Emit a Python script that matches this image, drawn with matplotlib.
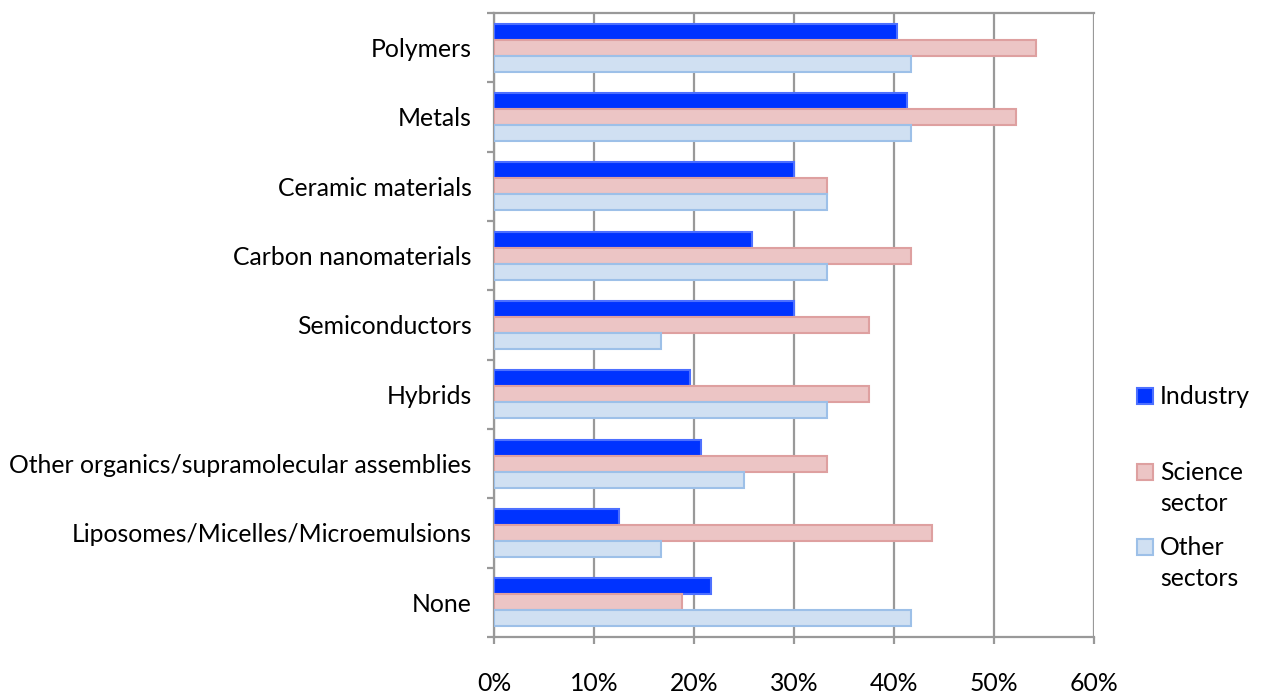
import matplotlib.pyplot as plt
import numpy as np
from matplotlib.patches import Rectangle
from matplotlib.ticker import PercentFormatter

plt.rcParams['font.family'] = ['Lato', 'DejaVu Sans']

categories = ["Polymers", "Metals", "Ceramic materials", "Carbon nanomaterials",
              "Semiconductors", "Hybrids", "Other organics/supramolecular assemblies",
              "Liposomes/Micelles/Microemulsions", "None"]
industry = [40.3, 41.3, 30.0, 25.8, 30.0, 19.6, 20.7, 12.5, 21.7]
science = [54.2, 52.2, 33.3, 41.7, 37.5, 37.5, 33.3, 43.8, 18.8]
other = [41.7, 41.7, 33.3, 33.3, 16.7, 33.3, 25.0, 16.7, 41.7]
series_names = ["Industry", "Science\nsector", "Other\nsectors"]

face_colors = ["#0033ff", "#ecc5c5", "#d0e0f2"]
edge_colors = ["#4d70ff", "#dea0a0", "#9dc0e8"]

W, H = 1263, 693
fig = plt.figure(figsize=(W / 100, H / 100), dpi=100)
ax = fig.add_axes([494 / W, 1 - 637 / H, 600 / W, 624 / H])

fs = 17.8

y = np.arange(len(categories))
h = 0.23
for k, vals in enumerate([industry, science, other]):
    ax.barh(y + (k - 1) * h, vals, height=h, color=face_colors[k],
            edgecolor=edge_colors[k], linewidth=1.5, zorder=3)

ax.set_xlim(0, 60)
ax.set_ylim(len(categories) - 0.5, -0.5)
ax.set_xticks(np.arange(0, 61, 10))
ax.xaxis.set_major_formatter(PercentFormatter(decimals=0))
ax.grid(axis='x', color='#999999', linewidth=1.6, zorder=0)

ax.set_yticks(y)
ax.set_yticklabels(categories)
ax.set_yticks(np.arange(-0.5, len(categories)), minor=True)
ax.tick_params(axis='y', which='major', length=0, pad=16, labelsize=fs)
ax.tick_params(axis='y', which='minor', length=5, width=1.6, color='#999999')
ax.tick_params(axis='x', length=5, width=1.6, color='#999999', pad=20, labelsize=fs)

for s in ['left', 'bottom', 'top']:
    ax.spines[s].set_color('#999999')
    ax.spines[s].set_linewidth(1.6)
ax.spines['right'].set_visible(False)

# legend drawn by hand: one square per series, label lines stacked beside it
line_centers = [[396], [472, 503], [547, 578]]
for k, name in enumerate(series_names):
    yc = line_centers[k][0]
    fig.add_artist(Rectangle((1137 / W, 1 - (yc + 8) / H), 16 / W, 16 / H,
                             facecolor=face_colors[k], edgecolor=edge_colors[k],
                             linewidth=1.5, transform=fig.transFigure))
    for line, lc in zip(name.split("\n"), line_centers[k]):
        fig.text(1160 / W, 1 - (lc + 8) / H, line, fontsize=fs,
                 ha='left', va='baseline')

fig.savefig("out.png", dpi=100)
